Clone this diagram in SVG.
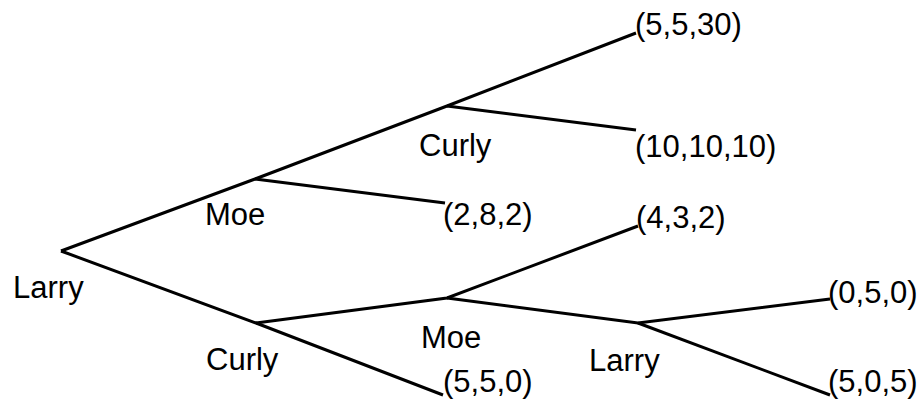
<svg xmlns="http://www.w3.org/2000/svg" width="924" height="403" viewBox="0 0 924 403">
<style>
.e{stroke:#000;stroke-width:3;fill:none;stroke-linecap:butt}
text{font-family:"Liberation Sans",Arial,sans-serif;font-size:31px;fill:#000}
</style>
<rect width="924" height="403" fill="#fff"/>
<g id="connectors">
<path class="e" d="M61,251 L255,179 L447,106 L636,33"/>
<path class="e" d="M447,106 L636,130"/>
<path class="e" d="M255,179 L445,203"/>
<path class="e" d="M61,251 L256,323 L443,395"/>
<path class="e" d="M256,323 L447,298 L638,226"/>
<path class="e" d="M447,298 L638,323 L830,299"/>
<path class="e" d="M638,323 L830,395"/>
</g>
<g id="n-larry-root"><text x="13" y="298">Larry</text></g>
<g id="n-moe-top"><text x="205" y="225">Moe</text></g>
<g id="n-curly-top"><text x="419" y="156">Curly</text></g>
<g id="n-curly-low"><text x="206" y="370">Curly</text></g>
<g id="n-moe-low"><text x="421" y="348">Moe</text></g>
<g id="n-larry-low"><text x="589" y="371">Larry</text></g>
<g id="t-5-5-30"><text x="635" y="35">(5,5,30)</text></g>
<g id="t-10-10-10"><text x="635" y="157">(10,10,10)</text></g>
<g id="t-2-8-2"><text x="443" y="225">(2,8,2)</text></g>
<g id="t-4-3-2"><text x="636" y="228">(4,3,2)</text></g>
<g id="t-5-5-0"><text x="443" y="392">(5,5,0)</text></g>
<g id="t-0-5-0"><text x="828" y="303">(0,5,0)</text></g>
<g id="t-5-0-5"><text x="828" y="392">(5,0,5)</text></g>
</svg>
